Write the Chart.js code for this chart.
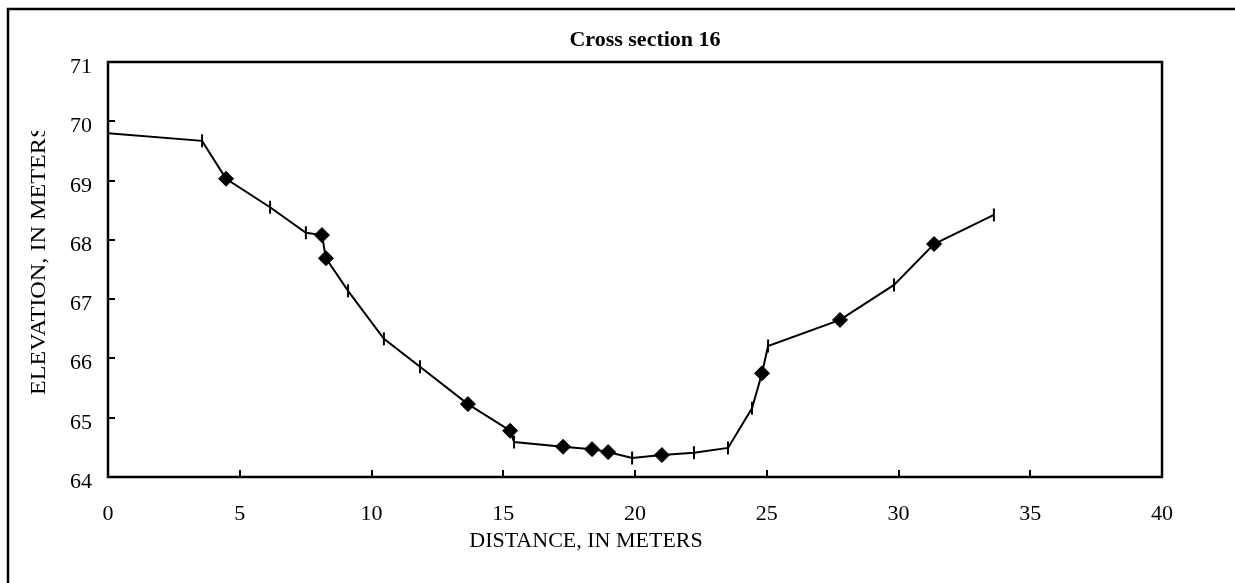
<!DOCTYPE html>
<html>
<head>
<meta charset="utf-8">
<script src="https://cdn.jsdelivr.net/npm/chart.js@4/dist/chart.umd.min.js"></script>
<style>
  body { margin: 0; background: #fff; }
  canvas { display: block; }
</style>
</head>
<body>
<canvas id="chartCanvas" width="1235" height="583"></canvas>
<script>
// Données (distance en m, altitude en m)
const distance = [0, 3.57, 4.48, 6.15, 7.51, 8.12, 8.27, 9.11, 10.47, 11.84, 13.66, 15.26, 15.41,
    17.27, 18.37, 18.98, 19.89, 21.02, 22.24, 23.53, 24.44, 24.82, 25.05, 27.78, 29.83, 31.35, 33.62];
const elevation = [69.80, 69.67, 69.03, 68.55, 68.12, 68.08, 67.69, 67.14, 66.33, 65.86, 65.23, 64.78, 64.59,
    64.51, 64.47, 64.42, 64.32, 64.37, 64.41, 64.49, 65.16, 65.75, 66.21, 66.65, 67.24, 67.93, 68.42];
// 1 = losange, 0 = petit trait vertical
const losange = [0, 0, 1, 0, 0, 1, 1, 0, 0, 0, 1, 1, 0, 1, 1, 1, 0, 1, 0, 0, 0, 1, 0, 1, 0, 1, 0];

const xTicks = [0, 5, 10, 15, 20, 25, 30, 35, 40];
const yTicks = [64, 65, 66, 67, 68, 69, 70, 71];

const titre = 'Cross section 16';
const titreX = 'DISTANCE, IN METERS';
const titreY = 'ELEVATION, IN METERS';

const police = '"Liberation Serif", "Times New Roman", serif';

// dessin du cadre, des graduations et des textes
const cadrePlugin = {
    id: 'cadre',
    afterDraw(chart) {
        const ctx = chart.ctx;
        const area = chart.chartArea;
        const sx = chart.scales.x;
        const sy = chart.scales.y;
        ctx.save();
        ctx.strokeStyle = '#000';
        ctx.fillStyle = '#000';

        // cadre extérieur (coupé à droite et en bas)
        ctx.lineWidth = 2.5;
        ctx.beginPath();
        ctx.moveTo(8, 600);
        ctx.lineTo(8, 9);
        ctx.lineTo(1250, 9);
        ctx.stroke();

        // cadre du graphique
        ctx.lineWidth = 2.5;
        ctx.strokeRect(area.left, area.top, area.right - area.left, area.bottom - area.top);

        // graduations vers l'intérieur
        ctx.lineWidth = 2;
        ctx.beginPath();
        xTicks.forEach(v => {
            const px = Math.round(sx.getPixelForValue(v));
            if (v > sx.min && v < sx.max) {
                ctx.moveTo(px, area.bottom);
                ctx.lineTo(px, area.bottom - 7);
            }
        });
        yTicks.forEach(v => {
            const py = Math.round(sy.getPixelForValue(v));
            if (v > sy.min && v < sy.max) {
                ctx.moveTo(area.left, py);
                ctx.lineTo(area.left + 7, py);
            }
        });
        ctx.stroke();

        ctx.font = '22px ' + police;
        ctx.textBaseline = 'alphabetic';
        ctx.textAlign = 'center';
        xTicks.forEach(v => {
            ctx.fillText(String(v), sx.getPixelForValue(v), area.bottom + 43);
        });
        ctx.textAlign = 'right';
        yTicks.forEach(v => {
            ctx.fillText(String(v), area.left - 16, sy.getPixelForValue(v) + 11);
        });

        // titres des axes
        ctx.textAlign = 'center';
        ctx.fillText(titreX, 586, 547);

        // le titre vertical est coupé en haut comme sur l'original
        ctx.save();
        ctx.beginPath();
        ctx.rect(0, 131, 100, 400);
        ctx.clip();
        ctx.translate(45, 395);
        ctx.rotate(-Math.PI / 2);
        ctx.scale(1.1, 1);
        ctx.textAlign = 'left';
        ctx.fillText(titreY, 0, 0);
        ctx.restore();

        // titre
        ctx.font = 'bold 22px ' + police;
        ctx.textAlign = 'center';
        ctx.fillText(titre, 645, 46);
        ctx.restore();
    }
};

const points = distance.map((d, i) => ({ x: d, y: elevation[i] }));

new Chart(document.getElementById('chartCanvas').getContext('2d'), {
    type: 'scatter',
    data: {
        datasets: [{
            data: points,
            showLine: true,
            borderColor: '#000',
            borderWidth: 2,
            backgroundColor: '#000',
            pointStyle: losange.map(l => l ? 'rectRot' : 'line'),
            rotation: losange.map(l => l ? 0 : 90),
            pointRadius: losange.map(l => l ? 7.5 : 6.5),
            pointBorderWidth: losange.map(l => l ? 1 : 2),
            pointBackgroundColor: '#000',
            pointBorderColor: '#000',
            pointHoverRadius: 0
        }]
    },
    options: {
        responsive: false,
        devicePixelRatio: 1,
        animation: false,
        layout: { padding: { left: 108, top: 62, right: 73, bottom: 106 } },
        plugins: { legend: { display: false }, tooltip: { enabled: false } },
        scales: {
            x: { type: 'linear', min: 0, max: 40, display: false },
            y: { type: 'linear', min: 64, max: 71, display: false }
        }
    },
    plugins: [cadrePlugin]
});
</script>
</body>
</html>
